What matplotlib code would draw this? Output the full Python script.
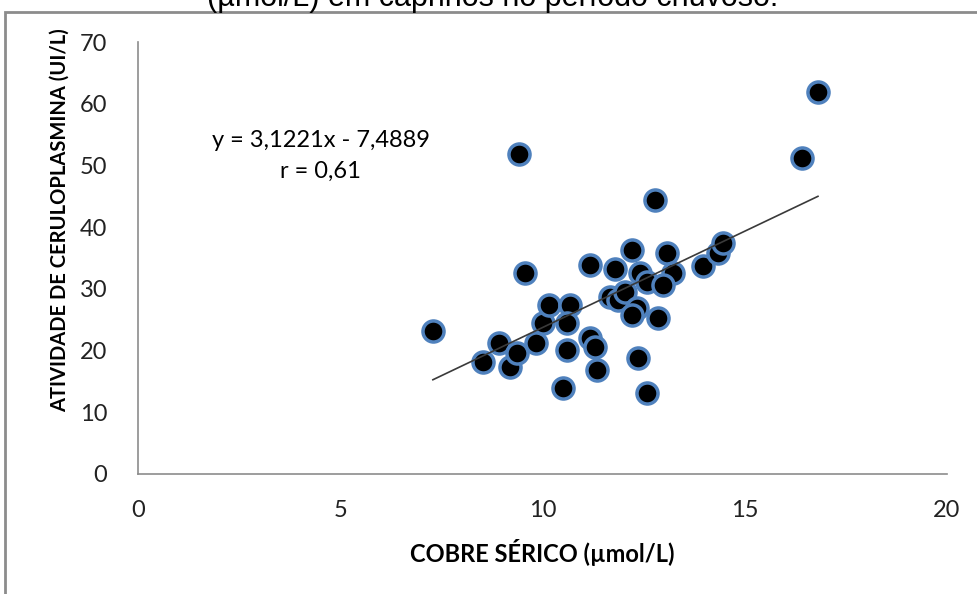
import matplotlib
matplotlib.use("Agg")
import matplotlib.pyplot as plt
from matplotlib.patches import Rectangle
import numpy as np

# serum copper (umol/L) vs ceruloplasmin activity (UI/L)
cobre = [7.29, 8.53, 8.92, 9.20, 9.37, 9.42, 9.57, 9.84, 10.01, 10.16,
         10.68, 10.61, 10.61, 10.51, 11.17, 11.30, 11.35, 11.17, 11.79, 11.67,
         11.87, 12.04, 12.21, 12.41, 12.58, 12.34, 12.21, 12.36, 12.58, 12.86,
         12.78, 13.08, 13.23, 12.98, 13.97, 14.34, 14.46, 16.42, 16.81]
ceruloplasmina = [23.2, 18.2, 21.2, 17.3, 19.6, 51.9, 32.6, 21.2, 24.5, 27.4,
                  27.4, 24.5, 20.1, 13.9, 22.0, 20.6, 16.9, 33.9, 33.2, 28.7,
                  28.2, 29.5, 36.3, 32.6, 31.1, 26.9, 25.8, 18.8, 13.1, 25.3,
                  44.4, 35.8, 32.6, 30.6, 33.7, 35.8, 37.4, 51.2, 61.9]
slope, intercept = 3.1221, -7.4889
eq_text = "y = 3,1221x - 7,4889"
r_text = "r = 0,61"
xticks = [0, 5, 10, 15, 20]
yticks = [0, 10, 20, 30, 40, 50, 60, 70]

plt.rcParams['font.family'] = ['Lato', 'DejaVu Sans']

fig = plt.figure(figsize=(9.78, 5.94), dpi=100)
ax = fig.add_axes([138 / 978, 1 - 474 / 594, (947 - 138) / 978, (474 - 42) / 594])

# outer chart frame (partly cut off)
fig.patches.append(Rectangle((5 / 978, -0.1), 1.2, 1 - 12 / 594 + 0.1,
                             transform=fig.transFigure, fill=False,
                             edgecolor='#8c8c8c', linewidth=2))

# caption above the chart, cut off by the crop as in the source
fig.text(0.504, 1 + 2 / 594, "(\u00b5mol/L) em caprinos no per\u00edodo chuvoso.",
         family='Liberation Sans', fontsize=22, ha='center', va='center')

ax.scatter(cobre, ceruloplasmina, s=230, c='black', edgecolors='#4f81bd',
           linewidths=2.5, zorder=3)

xs = np.array([min(cobre), max(cobre)])
ax.plot(xs, slope * xs + intercept, color='#3a3a3a', linewidth=1.2, zorder=4)

ax.text(4.52, 54.0, eq_text, fontsize=17, ha='center', va='center')
ax.text(4.52, 49.0, r_text, fontsize=17, ha='center', va='center')

ax.set_xlim(0, 20)
ax.set_ylim(0, 70)
ax.set_xticks(xticks)
ax.set_yticks(yticks)
ax.tick_params(length=0, labelsize=17, colors='#222222')
ax.tick_params(axis='x', pad=19)
ax.tick_params(axis='y', pad=22)
for s in ['top', 'right']:
    ax.spines[s].set_visible(False)
for s in ['left', 'bottom']:
    ax.spines[s].set_color('#8c8c8c')
    ax.spines[s].set_linewidth(1.2)

fig.text(542 / 978, 1 - 553 / 594, "COBRE S\u00c9RICO (\u00b5mol/L)",
         fontsize=17, fontweight='bold', ha='center', va='center')
fig.text(60 / 978, 1 - 220 / 594, "ATIVIDADE DE CERULOPLASMINA (UI/L)",
         fontsize=14.5, fontweight='bold', ha='center', va='center', rotation=90)

fig.savefig("out.png", dpi=100)
